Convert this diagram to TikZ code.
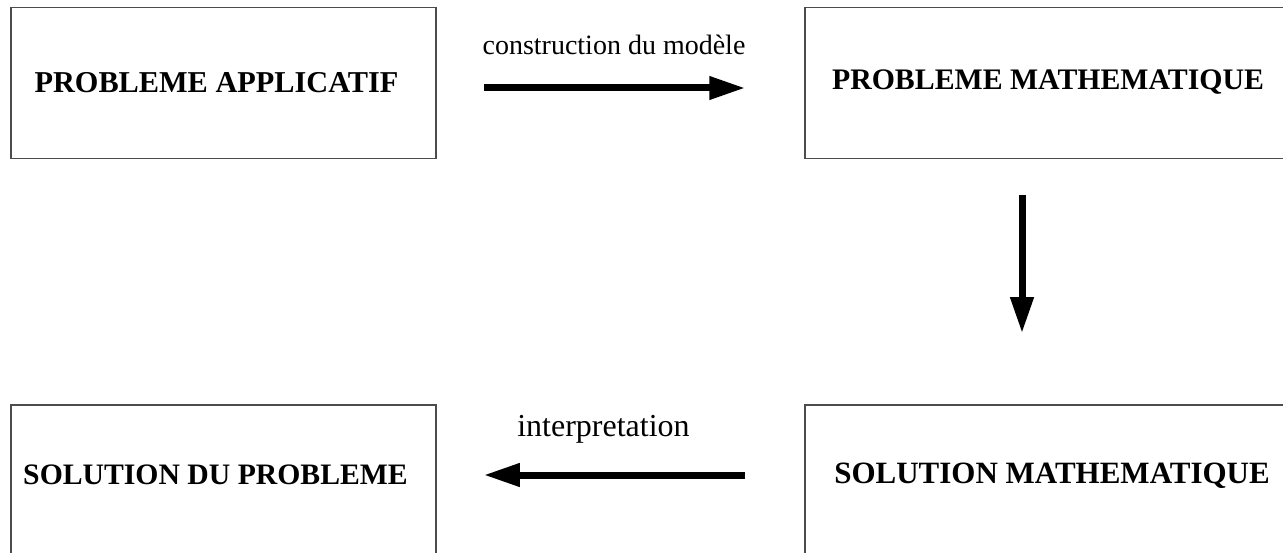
\documentclass[tikz,border=0pt]{standalone}
\usepackage{fontspec}
\setmainfont{Liberation Serif}
\usetikzlibrary{arrows.meta,calc}
\begin{document}
\begin{tikzpicture}[x=1pt,y=-1pt,
  box/.style={draw=black!70,line width=1.5pt,inner sep=0pt,minimum height=151pt},
  title/.style={font=\fontsize{30.3}{32}\selectfont\bfseries,inner sep=0pt},
  bigarrow/.style={line width=7pt,-{Triangle[length=36pt,width=22pt]}},
  lbl/.style={font=\fontsize{28}{32}\selectfont,inner sep=0pt}]
\useasboundingbox (0,0) rectangle (1283,553);
\clip (0,0) rectangle (1283,553);
\node[box,minimum width=425pt] (tl) at (223.5,83) {};
\node[title] (tlt) at (216.5,82.5) {PROBLEME APPLICATIF};
\node[box,minimum width=490pt] (tr) at (1050,83) {};
\node[title,font=\fontsize{29.8}{32}\selectfont\bfseries] (trt) at (1048,82.5) {PROBLEME MATHEMATIQUE};
\node[box,minimum width=425pt] (bl) at (223.5,480.5) {};
\node[title,font=\fontsize{29.7}{32}\selectfont\bfseries] (blt) at (215.5,474.5) {SOLUTION DU PROBLEME};
\node[box,minimum width=490pt] (br) at (1050,480.5) {};
\node[title,font=\fontsize{31}{32}\selectfont\bfseries] (brt) at (1052,475.5) {SOLUTION MATHEMATIQUE};
\coordinate (a1s) at ($(tl.east)+(47,5)$);
\coordinate (a1e) at ($(tr.west)+(-59,5)$);
\draw[bigarrow] (a1s) -- (a1e);
\node[lbl] (l1) at (614,45) {construction du modèle};
\coordinate (a2s) at ($(tr.south)+(-28,36)$);
\coordinate (a2e) at ($(br.north)+(-28,-71)$);
\draw[bigarrow] (a2s) -- (a2e);
\coordinate (a3s) at ($(br.west)+(-59,-5.5)$);
\coordinate (a3e) at ($(bl.east)+(47,-5.5)$);
\draw[bigarrow] (a3s) -- (a3e);
\node[lbl,font=\fontsize{32}{34}\selectfont] (l2) at (603.5,429) {interpretation};
\end{tikzpicture}
\end{document}
